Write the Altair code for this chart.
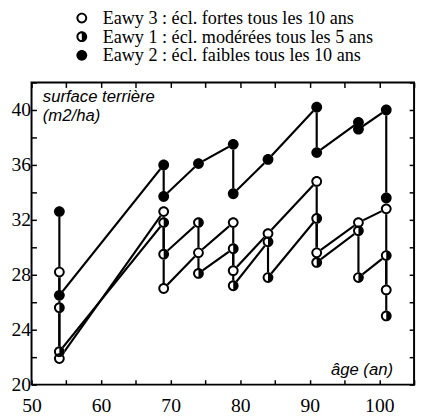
import altair as alt
import pandas as pd

series_names = [
    "Eawy 3 : écl. fortes tous les 10 ans",
    "Eawy 1 : écl. modérées tous les 5 ans",
    "Eawy 2 : écl. faibles tous les 10 ans",
]

eawy3_age = [54, 54, 69, 69, 74, 79, 79, 84, 91, 91, 97, 101, 101]
eawy3_val = [28.2, 21.9, 32.6, 27.0, 29.6, 31.8, 28.3, 31.0, 34.8, 29.6, 31.8, 32.8, 26.9]

eawy1_age = [54, 54, 69, 69, 74, 74, 79, 79, 84, 84, 91, 91, 97, 97, 101, 101]
eawy1_val = [25.6, 22.4, 31.8, 29.5, 31.8, 28.1, 29.9, 27.2, 30.4, 27.8, 32.1, 28.9, 31.2, 27.8, 29.4, 25.0]

eawy2_age = [54, 54, 69, 69, 74, 79, 79, 84, 91, 91, 97, 97, 101, 101]
eawy2_val = [32.6, 26.5, 36.0, 33.7, 36.1, 37.5, 33.9, 36.4, 40.2, 36.9, 39.1, 38.6, 40.0, 33.6]

x_ticks = list(range(50, 106, 5))
y_ticks = list(range(20, 43, 2))

rows = []
for name, ages, vals in zip(series_names, [eawy3_age, eawy1_age, eawy2_age], [eawy3_val, eawy1_val, eawy2_val]):
    for i, (a, v) in enumerate(zip(ages, vals)):
        rows.append({"series": name, "age": a, "value": v, "idx": i})
df = pd.DataFrame(rows)

R = 0.64
disc = "M1,0A1,1 0 1,1 -1,0A1,1 0 1,1 1,0Z"
ring = disc + f"M{R},0A{R},{R} 0 1,0 -{R},0A{R},{R} 0 1,0 {R},0Z"
half = ring + f"M0,-{R + 0.02}A{R + 0.02},{R + 0.02} 0 0,1 0,{R + 0.02}Z"

xs = alt.Scale(domain=[50, 105], nice=False, zero=False)
ys = alt.Scale(domain=[20, 42], nice=False, zero=False)

tick_common = dict(
    tickSize=5, offset=-5, domain=False, grid=False, labelOverlap=False,
    tickColor="black", tickWidth=1.5,
    labelFont="Liberation Serif", labelFontSize=20, labelColor="black",
)
title_common = dict(
    titleFont="Liberation Sans", titleFontStyle="italic", titleFontWeight="normal",
    titleFontSize=17, titleColor="black", titleAngle=0, titleBaseline="alphabetic",
)

x_bottom = alt.Axis(
    orient="bottom", values=x_ticks,
    labelExpr="datum.value % 10 == 0 && datum.value <= 100 ? datum.label : ''",
    labelFlush=False, labelPadding=11,
    title="âge (an)", titleX=368, titleY=-5, titleAlign="right",
    **title_common, **tick_common,
)
y_left = alt.Axis(
    orient="left", values=y_ticks,
    labelExpr="datum.value % 4 == 0 ? datum.label : ''",
    labelPadding=1,
    title=["surface terrière", "(m2/ha)"], titleX=6, titleY=19, titleAlign="left",
    titleLineHeight=20,
    **title_common, **tick_common,
)
x_top = alt.Axis(orient="top", values=x_ticks, labels=False, title=None, **tick_common)
y_right = alt.Axis(orient="right", values=y_ticks, labels=False, title=None, **tick_common)

base = alt.Chart(df)

lines = base.mark_line(color="black", strokeWidth=2.2).encode(
    x=alt.X("age:Q", scale=xs, axis=x_bottom),
    y=alt.Y("value:Q", scale=ys, axis=y_left),
    detail="series:N",
    order="idx:Q",
)

white = base.mark_point(shape="circle", filled=True, fill="white", size=121, opacity=1, strokeWidth=0).encode(
    x=alt.X("age:Q", scale=xs, axis=x_top),
    y=alt.Y("value:Q", scale=ys, axis=y_right),
)

shapes = base.mark_point(filled=True, fill="black", size=121, opacity=1, strokeWidth=0).encode(
    x=alt.X("age:Q", scale=xs, axis=None),
    y=alt.Y("value:Q", scale=ys, axis=None),
    shape=alt.Shape(
        "series:N",
        scale=alt.Scale(domain=series_names, range=[ring, half, disc]),
        legend=alt.Legend(
            title=None, orient="none", legendX=42, legendY=-75, direction="vertical",
            labelFont="Liberation Serif", labelFontSize=18.5, labelColor="black", labelLimit=0,
            symbolFillColor="black", symbolStrokeWidth=0, symbolSize=121, symbolOpacity=1,
            labelOffset=12, rowPadding=-12, padding=0,
        ),
    ),
)

chart = (
    alt.layer(lines, white, shapes)
    .resolve_axis(x="independent", y="independent")
    .properties(
        width=390, height=308,
        autosize=alt.AutoSizeParams(type="none"),
        padding={"left": 24, "top": 72, "right": 4, "bottom": 28},
    )
    .configure_view(stroke="black", strokeWidth=2)
)

chart.save("out.html", embed_options={"renderer": "svg", "actions": False})
